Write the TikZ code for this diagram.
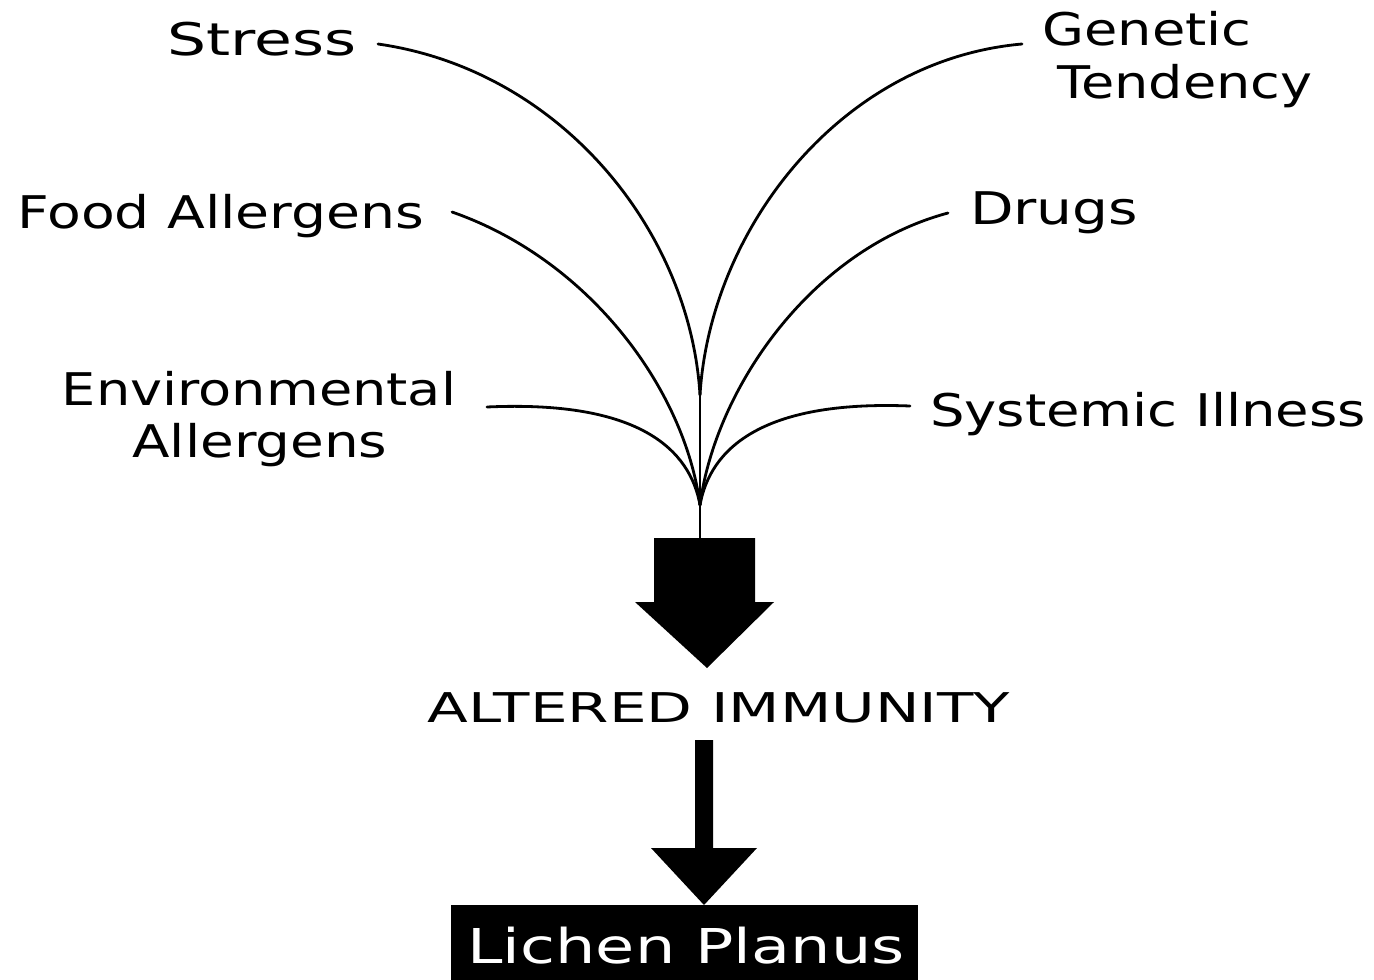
\documentclass[tikz,border=0pt]{standalone}
\usepackage{fontspec}
\usepackage{graphicx}
\setmainfont{DejaVu Sans}
\newcommand\wlbl[2]{\resizebox{#1pt}{\height}{#2}}
\begin{document}
\begin{tikzpicture}[x=1pt,y=-1pt,
  lbl/.style={inner sep=0pt,anchor=base,font=\fontsize{45}{50}\selectfont},
  con/.style={line width=2.8pt,line cap=round},
  big/.style={fill=black,draw=none}]
\useasboundingbox (0,0) rectangle (1374,980);
% labels (anchor base = baseline)
\node[lbl] (stress) at (262,55) {\wlbl{189}{Stress}};
\node[lbl] (genetic) at (1147,45) {\wlbl{209}{Genetic}};
\node[lbl] (tend) at (1185,98) {\wlbl{255}{Tendency}};
\node[lbl] (food) at (221,228) {\wlbl{407}{Food Allergens}};
\node[lbl] (drugs) at (1054,224) {\wlbl{168}{Drugs}};
\node[lbl] (env) at (259,405) {\wlbl{394}{Environmental}};
\node[lbl] (envb) at (260,457) {\wlbl{255}{Allergens}};
\node[lbl] (sys) at (1148,426) {\wlbl{436}{Systemic Illness}};
% start points of connectors
\coordinate (s1) at (378,44);
\coordinate (s2) at (1022,44);
\coordinate (s3) at (452,212);
\coordinate (s4) at (948,213);
\coordinate (s5) at (487,407);
\coordinate (s6) at (910,406);
\coordinate (m) at (700,395);
\coordinate (c) at (700,505);
\draw[con] (s1) .. controls (560,70) and (690,230) .. (m);
\draw[con] (s2) .. controls (840,60) and (710,230) .. (m);
\draw[con] (m) -- (c);
\draw[con] (s3) .. controls (590,260) and (685,390) .. (c);
\draw[con] (s4) .. controls (810,250) and (715,390) .. (c);
\draw[con] (s5) .. controls (640,400) and (690,450) .. (c);
\draw[con] (s6) .. controls (760,400) and (710,450) .. (c);
% big arrow
\draw[big] (654,538) -- (755,538) -- (755,602) -- (774,602) -- (707,668) -- (635,602) -- (654,602) -- cycle;
\coordinate (bigtop) at (700,538);
\draw[con] (c) -- (bigtop);
\node[lbl,font=\fontsize{41}{46}\selectfont] (alt) at (719,722) {\wlbl{582}{ALTERED IMMUNITY}};
% second arrow
\draw[big] (695,740) -- (713,740) -- (713,848) -- (757,848) -- (704,905) -- (651,848) -- (695,848) -- cycle;
\node[fill=black,minimum width=467pt,minimum height=76pt,inner sep=0pt,anchor=north] (lp) at (684.5,905) {};
\node[lbl,font=\fontsize{48}{52}\selectfont,text=white] (lpt) at (686,963) {\wlbl{437}{Lichen Planus}};
\end{tikzpicture}
\end{document}
